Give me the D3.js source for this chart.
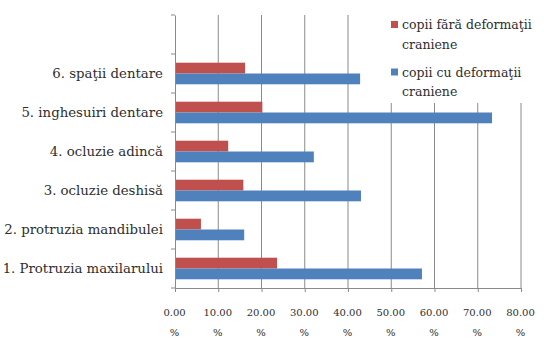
<!DOCTYPE html>
<html>
<head>
<meta charset="utf-8">
<script src="https://cdn.jsdelivr.net/npm/d3@7"></script>
<style>
  body { margin: 0; background: #fff; }
</style>
</head>
<body>
<div id="wrapper"></div>
<script>
// categories, bottom to top; the top band of the axis stays empty
const categories = [
  "1. Protruzia maxilarului",
  "2. protruzia mandibulei",
  "3. ocluzie deshisă",
  "4. ocluzie adincă",
  "5. inghesuiri dentare",
  "6. spaţii dentare",
  ""
]
const seriesNames = ["copii fără deformaţii craniene", "copii cu deformaţii craniene"]
const withoutDeformity = [23.6, 6.0, 15.8, 12.3, 20.2, 16.2]
const withDeformity = [57.1, 16.0, 43.0, 32.1, 73.3, 42.8]
const xTicks = [0, 10, 20, 30, 40, 50, 60, 70, 80]

const colors = ["#c0504d", "#4f81bd"]
const serif = "'DejaVu Serif', serif"
const textColor = "#2e2e2e"

async function drawBarChart() {
  let dimensions = {
    width: 544,
    height: 343,
    margin: { top: 15, right: 23, bottom: 55, left: 175 },
  }
  dimensions.boundedWidth = dimensions.width - dimensions.margin.left - dimensions.margin.right
  dimensions.boundedHeight = dimensions.height - dimensions.margin.top - dimensions.margin.bottom

  const wrapper = d3.select("#wrapper")
    .append("svg")
      .attr("width", dimensions.width)
      .attr("height", dimensions.height)
      .style("font-family", serif)

  const bounds = wrapper.append("g")
      .attr("transform", `translate(${dimensions.margin.left},${dimensions.margin.top})`)

  // scales
  const xScale = d3.scaleLinear()
    .domain([0, 80])
    .range([0, dimensions.boundedWidth])

  // reversed so the first category sits at the bottom
  const yScale = d3.scaleBand()
    .domain(categories.map((d, i) => i))
    .range([dimensions.boundedHeight, 0])

  const barHeight = 10.8
  const inner = d3.scaleBand()
    .domain([0, 1])
    .range([yScale.bandwidth() / 2 - barHeight, yScale.bandwidth() / 2 + barHeight])

  // gridlines
  bounds.append("g")
    .selectAll("line")
    .data(xTicks.slice(1))
    .join("line")
      .attr("x1", d => xScale(d))
      .attr("x2", d => xScale(d))
      .attr("y1", 0)
      .attr("y2", dimensions.boundedHeight)
      .attr("stroke", "#8a8a8a")
      .attr("stroke-width", 1)

  // bars
  const rows = withoutDeformity.map((v, i) => ({ i, values: [v, withDeformity[i]] }))
  const groups = bounds.append("g")
    .selectAll("g")
    .data(rows)
    .join("g")
      .attr("transform", d => `translate(0,${yScale(d.i)})`)

  groups.selectAll("rect")
    .data(d => d.values.map((v, s) => ({ v, s })))
    .join("rect")
      .attr("x", 0)
      .attr("y", d => inner(d.s))
      .attr("height", inner.bandwidth())
      .attr("width", d => xScale(d.v))
      .attr("fill", d => colors[d.s])

  // x axis
  const xAxis = bounds.append("g")
    .attr("transform", `translate(0,${dimensions.boundedHeight})`)
    .call(d3.axisBottom(xScale).tickValues(xTicks).tickSize(4).tickFormat(""))
  xAxis.attr("font-family", serif)
  xAxis.select(".domain").attr("stroke", "#8a8a8a")
  xAxis.selectAll(".tick line").attr("stroke", "#8a8a8a")
  const xLabels = xAxis.selectAll(".tick").append("text")
    .attr("text-anchor", "middle")
    .attr("fill", textColor)
    .style("font-family", serif)
    .style("font-size", "10px")
  xLabels.append("tspan").attr("x", -1).attr("y", 28).text(d => d3.format(".2f")(d))
  xLabels.append("tspan").attr("x", -1).attr("y", 48).text("%")

  // y axis
  const yAxis = bounds.append("g")
    .call(d3.axisLeft(yScale).tickSize(0).tickFormat(""))
  yAxis.select(".domain").attr("stroke", "#8a8a8a")
  yAxis.selectAll(".tick").remove()
  yAxis.selectAll(".cat-tick")
    .data(d3.range(categories.length + 1))
    .join("line")
      .attr("x1", -4)
      .attr("x2", 0)
      .attr("y1", d => dimensions.boundedHeight - d * yScale.step())
      .attr("y2", d => dimensions.boundedHeight - d * yScale.step())
      .attr("stroke", "#8a8a8a")

  bounds.append("g")
    .selectAll("text")
    .data(categories)
    .join("text")
      .attr("x", -12)
      .attr("y", (d, i) => yScale(i) + yScale.bandwidth() / 2)
      .attr("dy", "0.35em")
      .attr("text-anchor", "end")
      .attr("fill", textColor)
      .style("font-family", serif)
      .style("font-size", "13.3px")
      .text(d => d)

  // legend (white box hides gridlines behind it)
  const legend = wrapper.append("g")
    .attr("transform", "translate(383,0)")
  legend.append("rect")
    .attr("x", 0).attr("y", 0)
    .attr("width", 161).attr("height", 103)
    .attr("fill", "#fff")

  const items = legend.selectAll(".item")
    .data(seriesNames)
    .join("g")
      .attr("transform", (d, i) => `translate(0,${25 + i * 47.5})`)
  items.append("rect")
    .attr("x", 8).attr("y", -4)
    .attr("width", 7).attr("height", 7)
    .attr("fill", (d, i) => colors[i])
  const legendText = items.append("text")
    .attr("fill", textColor)
    .style("font-family", serif)
    .style("font-size", "12.5px")
  legendText.append("tspan")
    .attr("x", 19).attr("y", 0).attr("dy", "0.35em")
    .text(d => d.split(" ").slice(0, -1).join(" "))
  legendText.append("tspan")
    .attr("x", 19).attr("y", 19.5).attr("dy", "0.35em")
    .text(d => d.split(" ").slice(-1)[0])
}

drawBarChart()
</script>
</body>
</html>
